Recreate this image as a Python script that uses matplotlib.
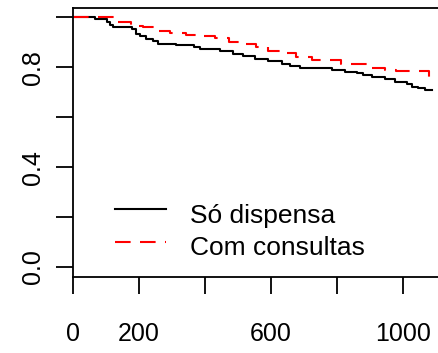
import matplotlib
matplotlib.use("Agg")
import matplotlib.pyplot as plt

plt.rcParams["font.family"] = ["Liberation Sans", "DejaVu Sans"]

# Kaplan-Meier estimates per group (time in days, survival proportion)
t_dispensa = [0, 67, 104, 113, 122, 179, 191, 203, 221, 243, 258, 312, 367,
              385, 446, 485, 515, 552, 591, 633, 657, 687, 784, 824, 860, 878,
              905, 945, 975, 1011, 1026, 1044, 1066, 1087]
s_dispensa = [1.0, 0.993, 0.980, 0.968, 0.961, 0.952, 0.934, 0.925, 0.914,
              0.904, 0.892, 0.888, 0.881, 0.874, 0.864, 0.853, 0.844, 0.834,
              0.824, 0.813, 0.805, 0.799, 0.789, 0.782, 0.776, 0.769, 0.760,
              0.752, 0.742, 0.732, 0.722, 0.716, 0.709, 0.709]

t_consultas = [0, 128, 176, 213, 258, 294, 343, 385, 430, 473, 509, 554, 591,
               639, 675, 724, 812, 893, 945, 978, 1078, 1084]
s_consultas = [1.0, 0.983, 0.967, 0.961, 0.944, 0.938, 0.930, 0.927, 0.917,
               0.900, 0.893, 0.880, 0.866, 0.857, 0.840, 0.829, 0.813, 0.798,
               0.789, 0.785, 0.758, 0.758]

group_labels = ["Só dispensa", "Com consultas"]
x_ticks = [0, 200, 400, 600, 800, 1000]
x_ticklabels = ["0", "200", "", "600", "", "1000"]
y_ticks = [0.0, 0.2, 0.4, 0.6, 0.8, 1.0]
y_ticklabels = ["0.0", "", "0.4", "", "0.8", ""]

fig = plt.figure(figsize=(4.39, 3.53), dpi=100)
ax = fig.add_axes([72.7 / 439, 76 / 353, 373.6 / 439, 269.5 / 353])

ax.plot(t_dispensa, s_dispensa, drawstyle="steps-post", color="black", lw=1.5)
ax.plot(t_consultas, s_consultas, drawstyle="steps-post", color="red", lw=1.5,
        dashes=(7.5, 4.5))

ax.set_xlim(0, 1130)
ax.set_ylim(-0.04, 1.04)
ax.set_xticks(x_ticks)
ax.set_xticklabels(x_ticklabels)
ax.set_yticks(y_ticks)
ax.set_yticklabels(y_ticklabels, rotation=90, va="center")
ax.tick_params(axis="both", length=12.2, width=1.3, labelsize=18)
ax.tick_params(axis="x", pad=20.5)
ax.tick_params(axis="y", pad=7.8)
for side in ["left", "top", "bottom", "right"]:
    ax.spines[side].set_linewidth(1.3)

# key in the lower part of the plotting region, R style
key_x = [128, 282]
key_y = [0.232, 0.101]
text_y = [0.176, 0.049]
ax.plot(key_x, [key_y[0]] * 2, color="black", lw=1.5)
ax.plot(key_x, [key_y[1]] * 2, color="red", lw=1.5, dashes=(7.5, 4.5))
for label, ty in zip(group_labels, text_y):
    ax.text(355, ty, label, fontsize=19, va="baseline", ha="left")

fig.savefig("out.png", dpi=100)
